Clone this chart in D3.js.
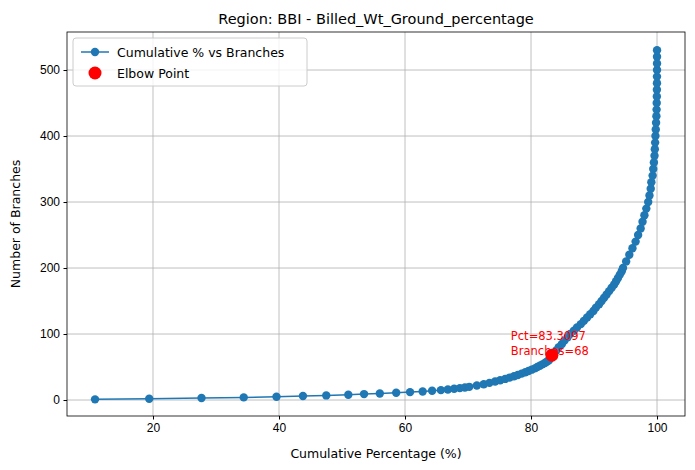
<!DOCTYPE html>
<html><head><meta charset="utf-8">
<script src="https://cdn.jsdelivr.net/npm/d3@7"></script>
<style>body{margin:0;background:#fff}svg{font-family:"DejaVu Sans",sans-serif}</style>
</head><body><svg id="chart" width="695" height="470"></svg>
<script>
// cumulative %, paired with branch counts
const branches = [1,2,3,4,5,6,7,8,9,10,11,12,13,14,15,16,17,18,19,20,
  22,24,26,28,30,32,34,36,38,40,42,44,46,48,50,52,54,56,58,60,62,64,66,68,
  70,75,80,85,90,95,100,105,110,115,120,125,130,135,140,145,150,155,160,165,170,175,180,185,190,195,200,
  210,220,230,240,250,260,270,280,290,300,310,320,330,340,350,360,370,380,390,400,410,420,430,440,450,460,470,480,490,500,510,520,530];
const pct = [10.8,19.4,27.7,34.4,39.6,43.8,47.5,51.0,53.5,56.0,58.6,60.8,62.8,64.3,65.7,66.8,67.8,68.7,69.5,70.2,
  71.4,72.5,73.4,74.3,75.1,75.9,76.6,77.3,77.9,78.5,79.1,79.6,80.1,80.6,81.0,81.4,81.8,82.2,82.5,82.8,83.0,83.1,83.2,83.3,
  83.5,84.0,84.4,84.9,85.3,85.8,86.2,86.8,87.3,87.9,88.4,88.9,89.4,89.9,90.3,90.8,91.2,91.6,92.0,92.4,92.8,93.2,93.5,93.8,94.1,94.4,94.6,
  95.1,95.6,96.1,96.6,97.0,97.4,97.7,98.0,98.3,98.6,98.8,99.0,99.1,99.3,99.4,99.5,99.6,99.65,99.7,99.75,99.8,99.85,99.9,99.93,99.95,99.97,99.98,99.99,99.99,100,100,100,100,100];
const elbow = {pct: 83.3097, branches: 68};
const xTicks = [20,40,60,80,100];
const yTicks = [0,100,200,300,400,500];

const svg = d3.select("#chart");
const W = 695;
const x = d3.scaleLinear().domain([6.35, 104.44]).range([67, 685]);
const y = d3.scaleLinear().domain([-24.2, 557.6]).range([416, 32]);
const pr = x.range(), py = [32, 416];

const grid = svg.append("g").attr("stroke","#b0b0b0").attr("stroke-width",0.8);
xTicks.forEach(t => grid.append("line").attr("x1",x(t)).attr("x2",x(t)).attr("y1",py[0]).attr("y2",py[1]));
yTicks.forEach(t => grid.append("line").attr("y1",y(t)).attr("y2",y(t)).attr("x1",pr[0]).attr("x2",pr[1]));

const data = branches.map((b,i) => ({b, p: pct[i]}));
svg.append("path").datum(data).attr("fill","none").attr("stroke","#1f77b4").attr("stroke-width",1.5)
  .attr("d", d3.line().x(d => x(d.p)).y(d => y(d.b)));
svg.append("g").selectAll("circle").data(data).join("circle")
  .attr("cx", d => x(d.p)).attr("cy", d => y(d.b)).attr("r", 4.2).attr("fill","#1f77b4");

svg.append("circle").attr("cx",x(elbow.pct)).attr("cy",y(elbow.branches)).attr("r",6.5).attr("fill","red");
// matplotlib draws the curve after the elbow marker, so overlay the line segment
const ann = svg.append("text").attr("fill","red").attr("font-size",11.5);
ann.append("tspan").attr("x",x(elbow.pct)-41).attr("y",y(elbow.branches)-15).text("Pct=" + elbow.pct);
ann.append("tspan").attr("x",x(elbow.pct)-41).attr("y",y(elbow.branches)).text("Branches=" + elbow.branches);

svg.append("rect").attr("x",pr[0]).attr("y",py[0]).attr("width",pr[1]-pr[0]).attr("height",py[1]-py[0])
  .attr("fill","none").attr("stroke","#000").attr("stroke-width",0.8);

svg.append("g").attr("transform",`translate(0,${py[1]})`)
  .call(d3.axisBottom(x).tickValues(xTicks).tickSize(3.5).tickPadding(3.5))
  .call(g => g.select(".domain").remove()).selectAll("text").attr("font-size",12).attr("fill","#000");
svg.append("g").attr("transform",`translate(${pr[0]},0)`)
  .call(d3.axisLeft(y).tickValues(yTicks).tickSize(3.5).tickPadding(3.5))
  .call(g => g.select(".domain").remove()).selectAll("text").attr("font-size",12).attr("fill","#000");

svg.append("text").attr("x",(pr[0]+pr[1])/2).attr("y",24).attr("text-anchor","middle").attr("font-size",14.5)
  .text("Region: BBI - Billed_Wt_Ground_percentage");
svg.append("text").attr("x",(pr[0]+pr[1])/2).attr("y",458).attr("text-anchor","middle").attr("font-size",12.5)
  .text("Cumulative Percentage (%)");
svg.append("text").attr("transform",`translate(20,${(py[0]+py[1])/2}) rotate(-90)`).attr("text-anchor","middle").attr("font-size",12.5)
  .text("Number of Branches");

const lg = svg.append("g").attr("transform",`translate(${pr[0]+6},${py[0]+6})`);
lg.append("rect").attr("width",234).attr("height",48).attr("rx",3).attr("fill","#fff").attr("fill-opacity",0.8).attr("stroke","#ccc");
lg.append("line").attr("x1",8).attr("x2",36).attr("y1",14).attr("y2",14).attr("stroke","#1f77b4").attr("stroke-width",1.5);
lg.append("circle").attr("cx",22).attr("cy",14).attr("r",4.2).attr("fill","#1f77b4");
lg.append("circle").attr("cx",22).attr("cy",35).attr("r",6.5).attr("fill","red");
lg.append("text").attr("x",44).attr("y",18.5).attr("font-size",12.5).text("Cumulative % vs Branches");
lg.append("text").attr("x",44).attr("y",39.5).attr("font-size",12.5).text("Elbow Point");
</script></body></html>
